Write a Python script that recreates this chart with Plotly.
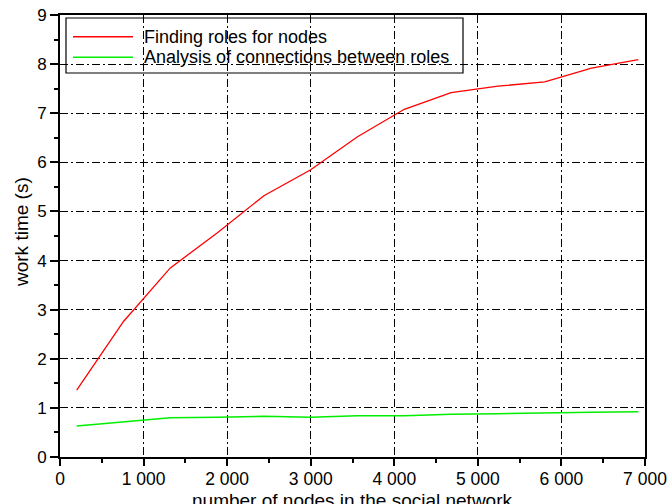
import plotly.graph_objects as go

nodes = [200, 760, 1320, 1880, 2440, 3000, 3560, 4120, 4680, 5240, 5800, 6360, 6920]
finding_roles = [1.36, 2.76, 3.85, 4.56, 5.32, 5.85, 6.52, 7.08, 7.42, 7.55, 7.64, 7.92, 8.09]
analysis_conn = [0.63, 0.72, 0.80, 0.81, 0.83, 0.81, 0.84, 0.84, 0.87, 0.88, 0.90, 0.91, 0.92]

series_names = ["Finding roles for nodes", "Analysis of connections between roles"]
series_colors = ["#ff0000", "#00ee00"]

x_tickvals = [0, 1000, 2000, 3000, 4000, 5000, 6000, 7000]
x_ticktext = ["0", "1 000", "2 000", "3 000", "4 000", "5 000", "6 000", "7 000"]
y_tickvals = [0, 1, 2, 3, 4, 5, 6, 7, 8, 9]
x_title = "number of nodes in the social network"
y_title = "work time (s)"

FONT = "Arial, Liberation Sans, sans-serif"

fig = go.Figure()
for yv, nm, col, w in zip([finding_roles, analysis_conn], series_names, series_colors, [1.3, 1.5]):
    fig.add_trace(go.Scatter(x=nodes, y=yv, mode="lines", name=nm,
                             line=dict(color=col, width=w), showlegend=False))

grid = dict(showgrid=True, gridcolor="black", gridwidth=1, griddash="8px,3px,2px,3px")

fig.update_xaxes(range=[0, 7000], tickvals=x_tickvals, ticktext=x_ticktext,
                 ticks="outside", ticklen=7, tickwidth=1.5, tickcolor="black",
                 minor=dict(ticks="outside", ticklen=4, dtick=500, tick0=0, tickcolor="black", showgrid=False),
                 showline=True, linecolor="black", linewidth=2, mirror=True,
                 zeroline=False, ticklabeloverflow="allow", ticklabelstandoff=-2,
                 tickfont=dict(family=FONT, size=17.5, color="black"),
                 **grid)
fig.update_yaxes(range=[0, 9], tickvals=y_tickvals,
                 ticks="outside", ticklen=8, tickwidth=1.5, tickcolor="black",
                 minor=dict(ticks="outside", ticklen=4, dtick=0.5, tick0=0, tickcolor="black", showgrid=False),
                 showline=True, linecolor="black", linewidth=2, mirror=True,
                 zeroline=False,
                 tickfont=dict(family=FONT, size=17, color="black"),
                 **grid)

# plot area in pixels: x 60..645, y 15..457
def px(xp):
    return (xp - 60) / 585.0

def py(yp):
    return (457 - yp) / 442.0

shapes = [dict(type="rect", xref="paper", yref="paper",
               x0=px(66), x1=px(463), y0=py(73), y1=py(18),
               line=dict(color="black", width=1.2), fillcolor="rgba(0,0,0,0)")]
annotations = []
for i, (nm, col) in enumerate(zip(series_names, series_colors)):
    yy = py(36.7 + 20.6 * i)
    shapes.append(dict(type="line", xref="paper", yref="paper",
                       x0=px(73), x1=px(133), y0=yy, y1=yy,
                       line=dict(color=col, width=1.5)))
    annotations.append(dict(text=nm, xref="paper", yref="paper", x=px(142), y=yy,
                            xanchor="left", yanchor="middle", showarrow=False,
                            font=dict(family=FONT, size=18, color="black")))

annotations.append(dict(text=x_title, xref="paper", yref="paper", x=px(352), y=py(500),
                        xanchor="center", yanchor="middle", showarrow=False,
                        font=dict(family=FONT, size=19, color="black")))
annotations.append(dict(text=y_title, xref="paper", yref="paper", x=px(21), y=py(232),
                        xanchor="center", yanchor="middle", showarrow=False, textangle=-90,
                        font=dict(family=FONT, size=19, color="black")))

fig.update_layout(
    width=667, height=504,
    margin=dict(l=60, r=22, t=15, b=47, autoexpand=False),
    paper_bgcolor="white", plot_bgcolor="white",
    font=dict(family=FONT, color="black"),
    shapes=shapes, annotations=annotations,
    showlegend=False,
)

fig.write_html("out.html")
